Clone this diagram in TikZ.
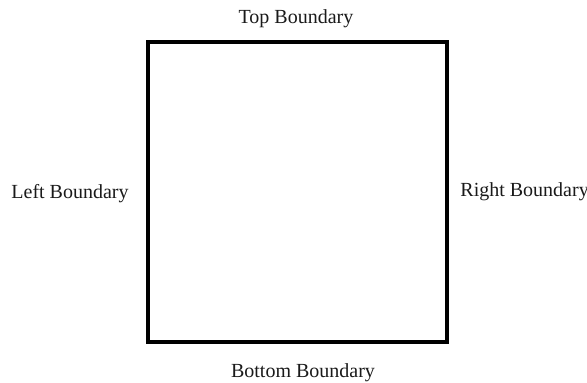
\documentclass[tikz,border=0pt]{standalone}
\usepackage{fontspec}
\setmainfont{Liberation Serif}
\usepackage{xcolor}
\usetikzlibrary{positioning, calc}
\definecolor{cEdge}{HTML}{000000}
\definecolor{cText}{HTML}{1A1A1A}

\begin{document}
\begin{tikzpicture}[x=0.5pt, y=-0.5pt,
    boundary/.style={font=\fontsize{10}{12}\selectfont, text=cText, inner sep=0pt},
    domainbox/.style={draw=cEdge, line width=2pt, minimum width=149.5pt,
      minimum height=150pt, inner sep=0pt}]
    \useasboundingbox (0,0) rectangle (587,383);
    \node[domainbox] (domain) at (297.5, 192) {};
    \node[boundary] (top)    at (296, 19)  {Top Boundary};
    \node[boundary] (bottom) at (303, 373) {Bottom Boundary};
    \node[boundary] (left)   at (70, 194)  {Left Boundary};
    \node[boundary, anchor=west] (right) at (460, 192) {Right Boundary};
  \end{tikzpicture}
\end{document}
